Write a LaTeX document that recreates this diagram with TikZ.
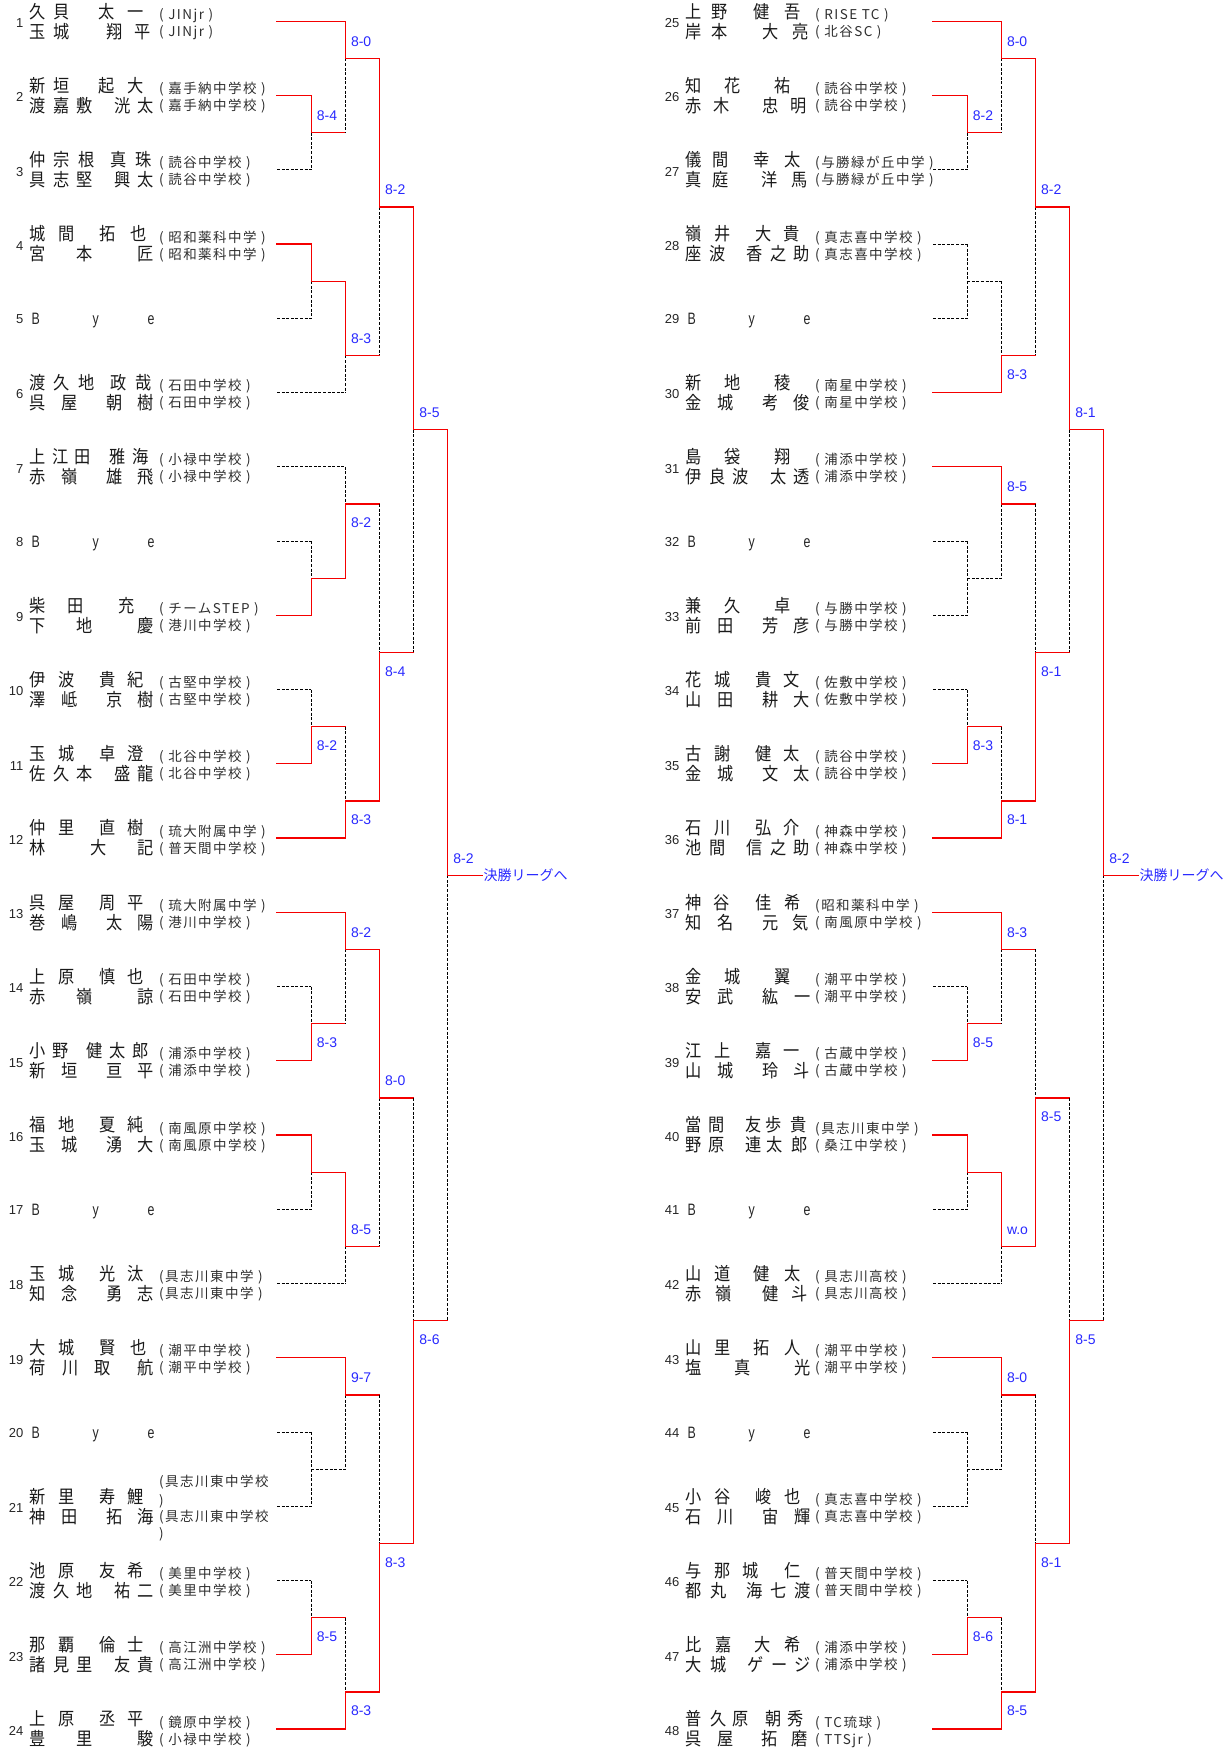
\documentclass[tikz,border=0pt]{standalone}
\usepackage{fontspec}
\newfontfamily\jpn[FakeStretch=0.9]{Noto Sans CJK JP}
\newfontfamily\jps[LetterSpace=11]{Noto Sans CJK JP}
\newfontfamily\jpl{Noto Sans CJK JP}
\newfontfamily\lat{Liberation Sans}
\newfontfamily\latn[FakeStretch=0.75]{Liberation Sans}
\definecolor{sblue}{RGB}{40,40,255}
\definecolor{lred}{RGB}{245,0,0}
\newdimen\slpos \newdimen\gpitch \newcount\ngc \newcount\scn
\def\plC#1{\ifx#1\relax\else\rlap{\hspace*{\slpos}#1}\advance\slpos by\gpitch\relax\expandafter\plC\fi}
\def\cntC#1{\ifx#1\relax\else\advance\ngc by 1\relax\expandafter\cntC\fi}
% #1 = line (1 short field, 2 long field), #2 surname, #3 given name
\newcommand\Nm[3]{\ngc=0\relax\cntC#2\relax\cntC#3\relax\def\lastp{98}\def\ee{12}%
\ifnum#1=1\relax\ifcase\ngc\or\or\or\def\lastp{88.6}\or\def\lastp{98.2}\or\def\lastp{102.5}\else\def\lastp{104}\fi\def\ee{12}\else\def\lastp{108}\def\ee{13.5}\fi
\pgfmathsetlength\gpitch{(\lastp-\ee)/(\the\ngc-1)}%
\slpos=0pt\relax\plC#2\relax\advance\slpos by\ee pt\relax\plC#3\relax}
\def\nxl#1/#2,{\ifx\relax#1\else\rlap{\hspace*{#2pt}#1}\expandafter\nxl\fi}
\newcommand\Nx[1]{\nxl#1,\relax/0,}
\newcommand\cX[1]{(277+34.15*(#1)+\sd)}
\newcommand\rY[1]{(21.3+37.125*(#1))}
\def\sd{0}
\tikzset{
 wline/.style={draw=lred, line width=1.3pt, line cap=rect},
 lline/.style={draw=black, line width=0.9pt, dash pattern=on 3pt off 1.6pt},
 nmf/.style={inner sep=0pt, font=\jpn\fontsize{18}{18}\selectfont, text=black!90},
 scf/.style={inner sep=0pt, font=\jps\fontsize{13.5}{14}\selectfont, text=black!82},
 numf/.style={inner sep=0pt, font=\lat\fontsize{13}{14}\selectfont, text=black!85},
 byef/.style={inner sep=0pt, font=\latn\fontsize{16.5}{17}\selectfont, text=black!85},
 scoref/.style={inner sep=0pt, font=\lat\fontsize{14}{15}\selectfont, text=sblue},
 finf/.style={inner sep=0pt, font=\jpl\fontsize{14}{15}\selectfont, text=sblue},
}
\newcommand\En[3]{\draw[#1] ({\cX{0}},{\rY{#2}}) -- ({\cX{#3}},{\rY{#2}});}
\newcommand\Mt[9]{%
 \draw[#5] ({\cX{#1}},{\rY{#2}}) -- ({\cX{#1}},{\rY{#3}});
 \draw[#6] ({\cX{#1}},{\rY{#3}}) -- ({\cX{#1}},{\rY{#4}});
 \draw[#7] ({\cX{#1}},{\rY{#3}}) -- ({\cX{#1+1}},{\rY{#3}});
 \if\relax\detokenize{#8}\relax\else
  \global\advance\scn by 1
  \if a#9\node[scoref,anchor=base west] (sc\the\scn) at ({\cX{#1}+5.5},{\rY{#3}-12}) {#8};
  \else\node[scoref,anchor=base west] (sc\the\scn) at ({\cX{#1}+5.5},{\rY{#3}+24}) {#8};\fi
 \fi}
\newcommand\Ent[6]{%
 \node[numf,anchor=base east] (num#1) at ({23.5+\sd},{\rY{#2}+6.2}) {#1};
 \node[nmf,anchor=base west] (na#1) at ({29+\sd},{\rY{#2}-3.2}) {#3};
 \node[scf,anchor=base west] (sa#1) at ({159+\sd},{\rY{#2}-1.9}) {#4};
 \node[nmf,anchor=base west] (nb#1) at ({29+\sd},{\rY{#2}+16.8}) {#5};
 \node[scf,anchor=base west] (sb#1) at ({159+\sd},{\rY{#2}+15.1}) {#6};}
\newcommand\By[2]{%
 \node[numf,anchor=base east] (num#1) at ({23.5+\sd},{\rY{#2}+5}) {#1};
 \node[byef,anchor=base west] (bye#1) at ({30+\sd},{\rY{#2}+6.5}) {\rlap{\hspace*{1pt}B}\rlap{\hspace*{62pt}y}\rlap{\hspace*{117pt}e}};}
\begin{document}
\begin{tikzpicture}[x=1pt,y=-1pt]
\useasboundingbox (0,0) rectangle (1231,1748);
% ================= LEFT =================
\def\sd{0}
\En{wline}{0}{2} \En{wline}{2}{1} \En{lline}{4}{1} \En{wline}{6}{1} \En{lline}{8}{1} \En{lline}{10}{2}
\En{lline}{12}{2} \En{lline}{14}{1} \En{wline}{16}{1} \En{lline}{18}{1} \En{wline}{20}{1} \En{wline}{22}{2}
\En{wline}{24}{2} \En{lline}{26}{1} \En{wline}{28}{1} \En{wline}{30}{1} \En{lline}{32}{1} \En{lline}{34}{2}
\En{wline}{36}{2} \En{lline}{38}{1} \En{lline}{40}{1} \En{lline}{42}{1} \En{wline}{44}{1} \En{wline}{46}{2}
\Mt{1}{2}{3}{4}{wline}{lline}{wline}{8-4}{a}
\Mt{2}{0}{1}{3}{wline}{lline}{wline}{8-0}{a}
\Mt{1}{6}{7}{8}{wline}{lline}{wline}{}{a}
\Mt{2}{7}{9}{10}{wline}{lline}{wline}{8-3}{a}
\Mt{3}{1}{5}{9}{wline}{lline}{wline}{8-2}{a}
\Mt{1}{14}{15}{16}{lline}{wline}{wline}{}{a}
\Mt{2}{12}{13}{15}{lline}{wline}{wline}{8-2}{b}
\Mt{1}{18}{19}{20}{lline}{wline}{wline}{8-2}{b}
\Mt{2}{19}{21}{22}{lline}{wline}{wline}{8-3}{b}
\Mt{3}{13}{17}{21}{lline}{wline}{wline}{8-4}{b}
\Mt{4}{5}{11}{17}{wline}{lline}{wline}{8-5}{a}
\Mt{1}{26}{27}{28}{lline}{wline}{wline}{8-3}{b}
\Mt{2}{24}{25}{27}{wline}{lline}{wline}{8-2}{a}
\Mt{1}{30}{31}{32}{wline}{lline}{wline}{}{a}
\Mt{2}{31}{33}{34}{wline}{lline}{wline}{8-5}{a}
\Mt{3}{25}{29}{33}{wline}{lline}{wline}{8-0}{a}
\Mt{1}{38}{39}{40}{lline}{lline}{lline}{}{a}
\Mt{2}{36}{37}{39}{wline}{lline}{wline}{9-7}{a}
\Mt{1}{42}{43}{44}{lline}{wline}{wline}{8-5}{b}
\Mt{2}{43}{45}{46}{lline}{wline}{wline}{8-3}{b}
\Mt{3}{37}{41}{45}{lline}{wline}{wline}{8-3}{b}
\Mt{4}{29}{35}{41}{lline}{wline}{wline}{8-6}{b}
\Mt{5}{11}{23}{35}{wline}{lline}{wline}{8-2}{a}
\node[finf,anchor=base west] (finL) at ({\cX{6}+1.5},{\rY{23}+5.3}) {決勝リーグへ};
\Ent{1}{0}{\Nx{久/0,貝/24,太/69,一/98}}{( JINjr )}{\Nx{玉/0,城/24,翔/77,平/104.6}}{( JINjr )}
\Ent{2}{2}{\Nx{新/0,垣/24,起/69,大/98}}{( 嘉手納中学校 )}{\Nm{2}{渡嘉敷}{洸太}}{( 嘉手納中学校 )}
\Ent{3}{4}{\Nx{仲/0,宗/24,根/49,真/80.4,珠/105.4}}{( 読谷中学校 )}{\Nm{2}{具志堅}{興太}}{( 読谷中学校 )}
\Ent{4}{6}{\Nx{城/0,間/28.7,拓/69.6,也/101}}{( 昭和薬科中学 )}{\Nm{2}{宮本}{匠}}{( 昭和薬科中学 )}
\By{5}{8}
\Ent{6}{10}{\Nx{渡/0,久/24,地/49,政/80.4,哉/105.4}}{( 石田中学校 )}{\Nm{2}{呉屋}{朝樹}}{( 石田中学校 )}
\Ent{7}{12}{\Nm{1}{上江田}{雅海}}{( 小禄中学校 )}{\Nm{2}{赤嶺}{雄飛}}{( 小禄中学校 )}
\By{8}{14}
\Ent{9}{16}{\Nm{1}{柴田}{充}}{( チームSTEP )}{\Nm{2}{下地}{慶}}{( 港川中学校 )}
\Ent{10}{18}{\Nm{1}{伊波}{貴紀}}{( 古堅中学校 )}{\Nm{2}{澤岻}{京樹}}{( 古堅中学校 )}
\Ent{11}{20}{\Nm{1}{玉城}{卓澄}}{( 北谷中学校 )}{\Nm{2}{佐久本}{盛龍}}{( 北谷中学校 )}
\Ent{12}{22}{\Nm{1}{仲里}{直樹}}{( 琉大附属中学 )}{\Nm{2}{林}{大記}}{( 普天間中学校 )}
\Ent{13}{24}{\Nm{1}{呉屋}{周平}}{( 琉大附属中学 )}{\Nm{2}{巻嶋}{太陽}}{( 港川中学校 )}
\Ent{14}{26}{\Nm{1}{上原}{慎也}}{( 石田中学校 )}{\Nm{2}{赤嶺}{諒}}{( 石田中学校 )}
\Ent{15}{28}{\Nm{1}{小野}{健太郎}}{( 浦添中学校 )}{\Nm{2}{新垣}{亘平}}{( 浦添中学校 )}
\Ent{16}{30}{\Nm{1}{福地}{夏純}}{( 南風原中学校 )}{\Nm{2}{玉城}{湧大}}{( 南風原中学校 )}
\By{17}{32}
\Ent{18}{34}{\Nm{1}{玉城}{光汰}}{(具志川東中学 )}{\Nm{2}{知念}{勇志}}{(具志川東中学 )}
\Ent{19}{36}{\Nx{大/0,城/28.7,賢/69.6,也/101}}{( 潮平中学校 )}{\Nx{荷/0,川/33,取/64.6,航/108}}{( 潮平中学校 )}
\By{20}{38}
\node[numf,anchor=base east] (num21) at ({23.5},{\rY{40}+6.2}) {21};
\node[nmf,anchor=base west] (na21) at (29,{\rY{40}-3.2}) {\Nm{1}{新里}{寿鯉}};
\node[nmf,anchor=base west] (nb21) at (29,{\rY{40}+16.8}) {\Nm{2}{神田}{拓海}};
\node[scf,anchor=base west] (sa21) at (159,{\rY{40}-19.5}) {(具志川東中学校};
\node[scf,anchor=base west] (sa21b) at (159,{\rY{40}-1.3}) {)};
\node[scf,anchor=base west] (sb21) at (159,{\rY{40}+15.1}) {(具志川東中学校};
\node[scf,anchor=base west] (sb21b) at (159,{\rY{40}+31.7}) {)};
\Ent{22}{42}{\Nm{1}{池原}{友希}}{( 美里中学校 )}{\Nm{2}{渡久地}{祐二}}{( 美里中学校 )}
\Ent{23}{44}{\Nm{1}{那覇}{倫士}}{( 高江洲中学校 )}{\Nm{2}{諸見里}{友貴}}{( 高江洲中学校 )}
\Ent{24}{46}{\Nm{1}{上原}{丞平}}{( 鏡原中学校 )}{\Nm{2}{豊里}{駿}}{( 小禄中学校 )}
% ================= RIGHT =================
\def\sd{656}
\En{wline}{0}{2} \En{wline}{2}{1} \En{lline}{4}{1} \En{lline}{6}{1} \En{lline}{8}{1} \En{wline}{10}{2}
\En{wline}{12}{2} \En{lline}{14}{1} \En{lline}{16}{1} \En{lline}{18}{1} \En{wline}{20}{1} \En{wline}{22}{2}
\En{wline}{24}{2} \En{lline}{26}{1} \En{wline}{28}{1} \En{wline}{30}{1} \En{lline}{32}{1} \En{lline}{34}{2}
\En{wline}{36}{2} \En{lline}{38}{1} \En{lline}{40}{1} \En{lline}{42}{1} \En{wline}{44}{1} \En{wline}{46}{2}
\Mt{1}{2}{3}{4}{wline}{lline}{wline}{8-2}{a}
\Mt{2}{0}{1}{3}{wline}{lline}{wline}{8-0}{a}
\Mt{1}{6}{7}{8}{lline}{lline}{lline}{}{a}
\Mt{2}{7}{9}{10}{lline}{wline}{wline}{8-3}{b}
\Mt{3}{1}{5}{9}{wline}{lline}{wline}{8-2}{a}
\Mt{1}{14}{15}{16}{lline}{lline}{lline}{}{a}
\Mt{2}{12}{13}{15}{wline}{lline}{wline}{8-5}{a}
\Mt{1}{18}{19}{20}{lline}{wline}{wline}{8-3}{b}
\Mt{2}{19}{21}{22}{lline}{wline}{wline}{8-1}{b}
\Mt{3}{13}{17}{21}{lline}{wline}{wline}{8-1}{b}
\Mt{4}{5}{11}{17}{wline}{lline}{wline}{8-1}{a}
\Mt{1}{26}{27}{28}{lline}{wline}{wline}{8-5}{b}
\Mt{2}{24}{25}{27}{wline}{lline}{wline}{8-3}{a}
\Mt{1}{30}{31}{32}{wline}{lline}{wline}{}{a}
\Mt{2}{31}{33}{34}{wline}{lline}{wline}{w.o}{a}
\Mt{3}{25}{29}{33}{lline}{wline}{wline}{8-5}{b}
\Mt{1}{38}{39}{40}{lline}{lline}{lline}{}{a}
\Mt{2}{36}{37}{39}{wline}{lline}{wline}{8-0}{a}
\Mt{1}{42}{43}{44}{lline}{wline}{wline}{8-6}{b}
\Mt{2}{43}{45}{46}{lline}{wline}{wline}{8-5}{b}
\Mt{3}{37}{41}{45}{lline}{wline}{wline}{8-1}{b}
\Mt{4}{29}{35}{41}{lline}{wline}{wline}{8-5}{b}
\Mt{5}{11}{23}{35}{wline}{lline}{wline}{8-2}{a}
\node[finf,anchor=base west] (finR) at ({\cX{6}+1.5},{\rY{23}+5.3}) {決勝リーグへ};
\Ent{25}{0}{\Nx{上/0,野/26,健/68,吾/98.6}}{( RISE TC )}{\Nx{岸/0,本/26,大/77,亮/107}}{( 北谷SC )}
\Ent{26}{2}{\Nm{1}{知花}{祐}}{( 読谷中学校 )}{\Nx{赤/0,木/27.7,忠/77,明/104.4}}{( 読谷中学校 )}
\Ent{27}{4}{\Nx{儀/0,間/27,幸/68,太/98.6}}{(与勝緑が丘中学 )}{\Nx{真/0,庭/27,洋/76,馬/106}}{(与勝緑が丘中学 )}
\Ent{28}{6}{\Nm{1}{嶺井}{大貴}}{( 真志喜中学校 )}{\Nm{2}{座波}{香之助}}{( 真志喜中学校 )}
\By{29}{8}
\Ent{30}{10}{\Nm{1}{新地}{稜}}{( 南星中学校 )}{\Nm{2}{金城}{考俊}}{( 南星中学校 )}
\Ent{31}{12}{\Nm{1}{島袋}{翔}}{( 浦添中学校 )}{\Nm{2}{伊良波}{太透}}{( 浦添中学校 )}
\By{32}{14}
\Ent{33}{16}{\Nm{1}{兼久}{卓}}{( 与勝中学校 )}{\Nm{2}{前田}{芳彦}}{( 与勝中学校 )}
\Ent{34}{18}{\Nm{1}{花城}{貴文}}{( 佐敷中学校 )}{\Nm{2}{山田}{耕大}}{( 佐敷中学校 )}
\Ent{35}{20}{\Nm{1}{古謝}{健太}}{( 読谷中学校 )}{\Nm{2}{金城}{文太}}{( 読谷中学校 )}
\Ent{36}{22}{\Nm{1}{石川}{弘介}}{( 神森中学校 )}{\Nm{2}{池間}{信之助}}{( 神森中学校 )}
\Ent{37}{24}{\Nx{神/0,谷/27.7,佳/69.4,希/98.6}}{(昭和薬科中学 )}{\Nx{知/0,名/32,元/77,気/107}}{( 南風原中学校 )}
\Ent{38}{26}{\Nm{1}{金城}{翼}}{( 潮平中学校 )}{\Nx{安/0,武/32,紘/77,一/108.6}}{( 潮平中学校 )}
\Ent{39}{28}{\Nm{1}{江上}{嘉一}}{( 古蔵中学校 )}{\Nm{2}{山城}{玲斗}}{( 古蔵中学校 )}
\Ent{40}{30}{\Nx{當/0,間/22.7,友/59.4,歩/80.2,貴/104.4}}{(具志川東中学 )}{\Nx{野/0,原/22.7,連/59.4,太/80.5,郎/106}}{( 桑江中学校 )}
\By{41}{32}
\Ent{42}{34}{\Nx{山/0,道/28.6,健/67.7,太/98.6}}{( 具志川高校 )}{\Nx{赤/0,嶺/30,健/77,斗/106}}{( 具志川高校 )}
\Ent{43}{36}{\Nx{山/0,里/28.6,拓/67.7,人/98.6}}{( 潮平中学校 )}{\Nx{塩/0,真/48.6,光/108.6}}{( 潮平中学校 )}
\By{44}{38}
\Ent{45}{40}{\Nx{小/0,谷/28.6,峻/69.4,也/98.6}}{( 真志喜中学校 )}{\Nx{石/0,川/32,宙/77,輝/108.6}}{( 真志喜中学校 )}
\Ent{46}{42}{\Nx{与/0,那/28.6,城/57,仁/98.6}}{( 普天間中学校 )}{\Nx{都/0,丸/25,海/61,七/85,渡/108.6}}{( 普天間中学校 )}
\Ent{47}{44}{\Nx{比/0,嘉/29.4,大/68.6,希/98.6}}{( 浦添中学校 )}{\Nx{大/0,城/25,ゲ/62,ー/86,ジ/108.6}}{( 浦添中学校 )}
\Ent{48}{46}{\Nx{普/0,久/24.4,原/47,朝/79.4,秀/102}}{( TC琉球 )}{\Nx{呉/0,屋/32,拓/76,磨/106}}{( TTSjr )}
\end{tikzpicture}
\end{document}
